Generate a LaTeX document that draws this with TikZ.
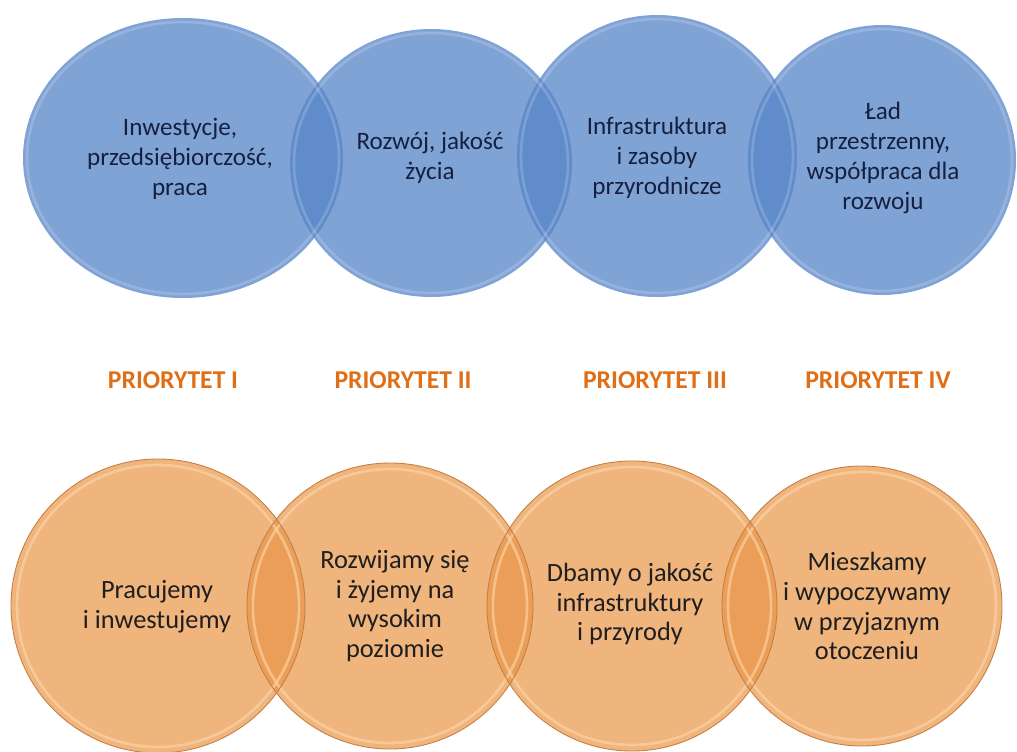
\documentclass[tikz,border=0pt]{standalone}
\usepackage{fontspec}
\setmainfont{Carlito}
\definecolor{blueball}{RGB}{86,132,200}
\definecolor{blueink}{RGB}{22,32,62}
\definecolor{orangeball}{RGB}{233,148,70}
\definecolor{orangerim}{RGB}{196,128,68}
\definecolor{orangeglow}{RGB}{253,216,172}
\definecolor{prioink}{RGB}{224,110,22}
\begin{document}
\begin{tikzpicture}[scale=0.2]
\tikzstyle{every node}+=[inner sep=0pt]
\tikzstyle{goal}=[font=\fontsize{14.3}{17}\selectfont, align=center, text=blueink]
\tikzstyle{task}=[font=\fontsize{15}{17}\selectfont, align=center, text=black!88]
\tikzstyle{prio}=[font=\fontsize{14.6}{16}\selectfont\bfseries, text=prioink]
\useasboundingbox (0,0) rectangle (101.7,-75.1);
\fill [blueball, opacity=0.75] (18.3,-15.8) ellipse (16 and 14);
\fill [blueball, opacity=0.75] (43.1,-16.3) ellipse (14.1 and 13.4);
\fill [blueball, opacity=0.75] (65.7,-15.6) ellipse (14 and 14.1);
\fill [blueball, opacity=0.75] (88.2,-16) ellipse (13.4 and 13.5);
\draw [white, opacity=0.18, line width=1.5pt] (18.3,-15.8) ellipse (15.6 and 13.6);
\draw [white, opacity=0.18, line width=1.5pt] (43.1,-16.3) ellipse (13.7 and 13);
\draw [white, opacity=0.18, line width=1.5pt] (65.7,-15.6) ellipse (13.6 and 13.7);
\draw [white, opacity=0.18, line width=1.5pt] (88.2,-16) ellipse (13 and 13.1);
\node [goal] (inwest) at (18,-15.9) {Inwestycje,\\przedsiębiorczość,\\praca};
\node [goal] (rozwoj) at (43,-15.8) {Rozwój, jakość\\życia};
\node [goal] (infra) at (65.7,-15.8) {Infrastruktura\\i zasoby\\przyrodnicze};
\node [goal] (lad) at (88.3,-15.8) {Ład\\przestrzenny,\\współpraca dla\\rozwoju};
\node [prio] (prio1) at (17.3,-38) {PRIORYTET I};
\node [prio] (prio2) at (40.3,-38) {PRIORYTET II};
\node [prio] (prio3) at (65.5,-38) {PRIORYTET III};
\node [prio] (prio4) at (87.8,-38) {PRIORYTET IV};
\fill [orangeball, opacity=0.7] (15.8,-60.6) circle (14.7);
\fill [orangeball, opacity=0.7] (39,-60.6) circle (14.3);
\fill [orangeball, opacity=0.7] (63.2,-60.6) circle (14.5);
\fill [orangeball, opacity=0.7] (86.2,-60.6) circle (14);
\draw [orangeglow, opacity=0.6, line width=1.5pt] (15.8,-60.6) circle (14.1);
\draw [orangeglow, opacity=0.6, line width=1.5pt] (39,-60.6) circle (13.7);
\draw [orangeglow, opacity=0.6, line width=1.5pt] (63.2,-60.6) circle (13.9);
\draw [orangeglow, opacity=0.6, line width=1.5pt] (86.2,-60.6) circle (13.4);
\draw [orangerim, line width=0.5pt] (15.8,-60.6) circle (14.7);
\draw [orangerim, line width=0.5pt] (39,-60.6) circle (14.3);
\draw [orangerim, line width=0.5pt] (63.2,-60.6) circle (14.5);
\draw [orangerim, line width=0.5pt] (86.2,-60.6) circle (14);
\node [task] (pracujemy) at (15.7,-60.7) {Pracujemy\\i inwestujemy};
\node [task] (rozwijamy) at (39.5,-60.6) {Rozwijamy się\\i żyjemy na\\wysokim\\poziomie};
\node [task] (dbamy) at (63,-60.4) {Dbamy o jakość\\infrastruktury\\i przyrody};
\node [task] (mieszkamy) at (86.7,-60.6) {Mieszkamy\\i wypoczywamy\\w przyjaznym\\otoczeniu};
\end{tikzpicture}
\end{document}
